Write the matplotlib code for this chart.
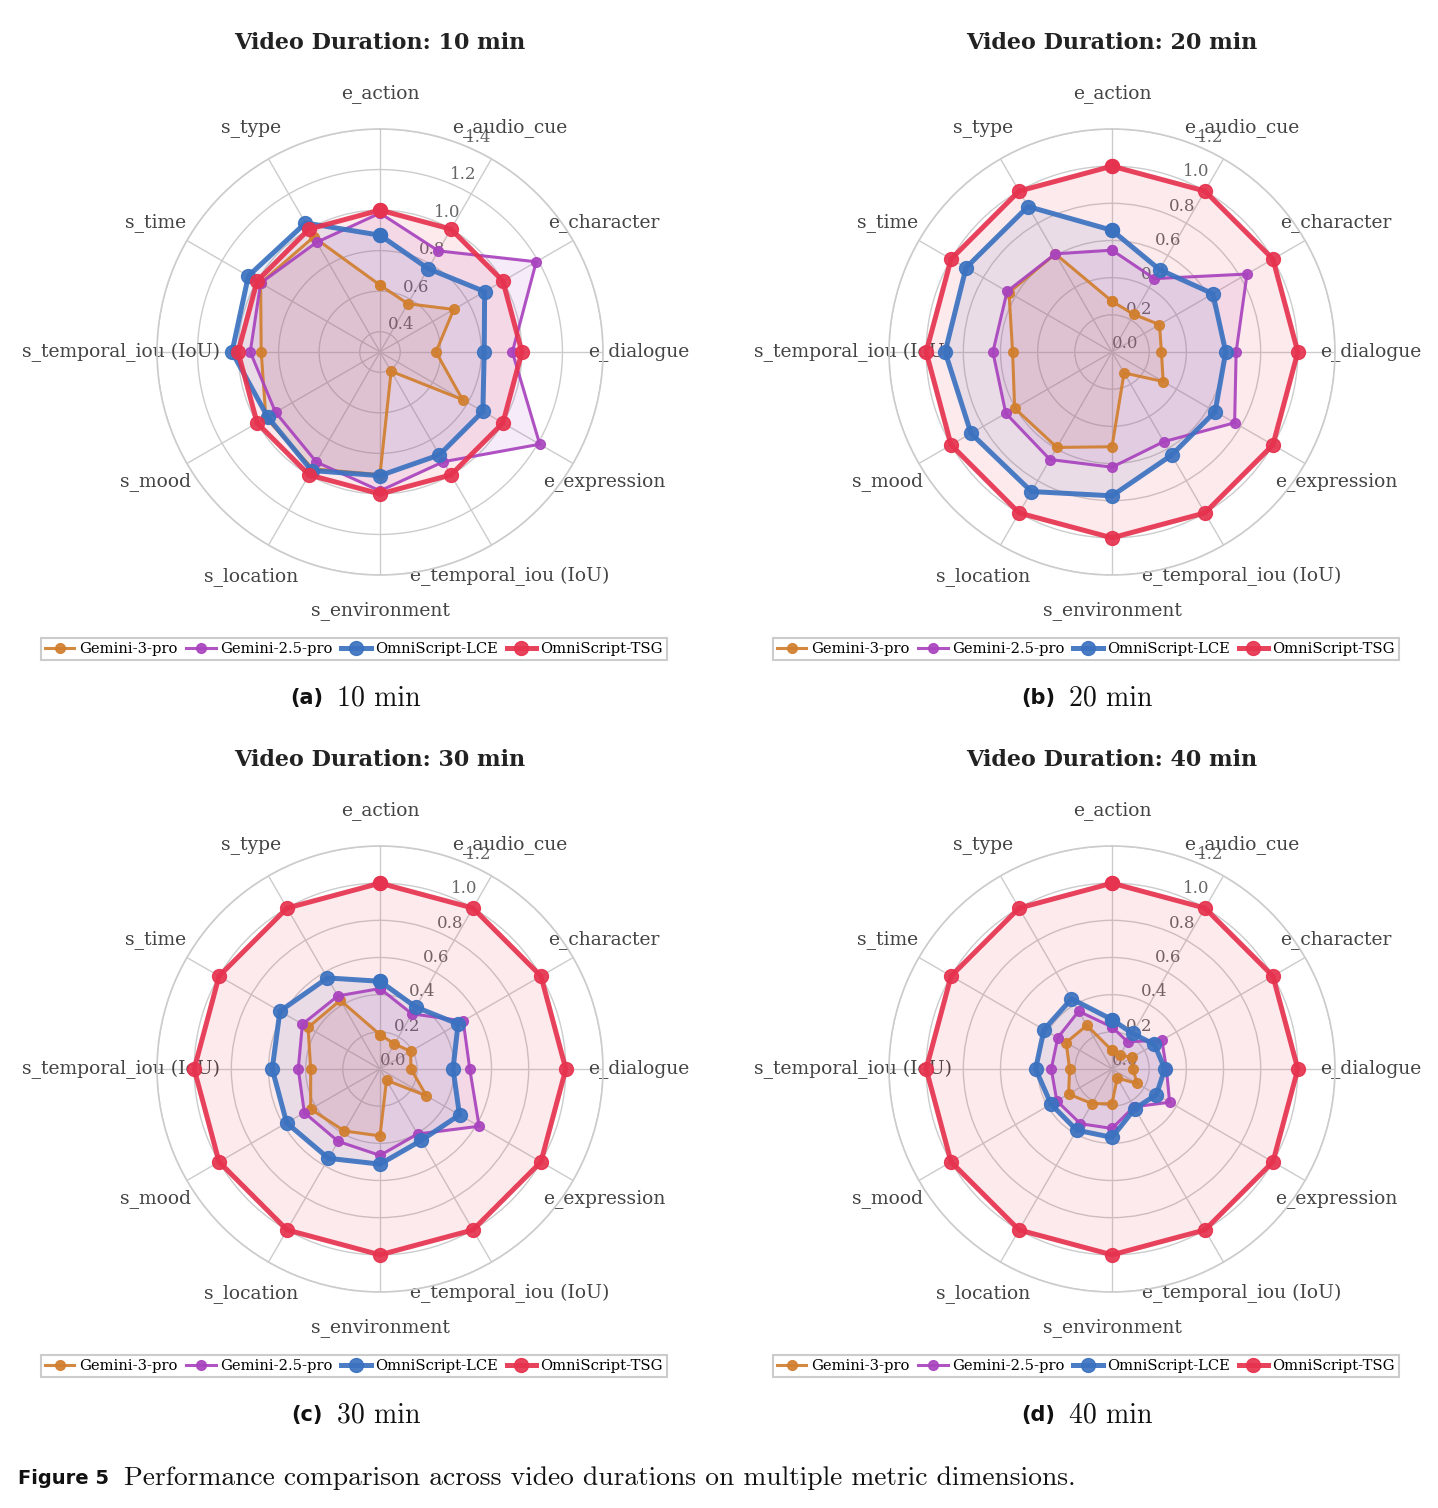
import numpy as np
import matplotlib.pyplot as plt

metrics = ["e_action", "e_audio_cue", "e_character", "e_dialogue", "e_expression",
           "e_temporal_iou (IoU)", "s_environment", "s_location", "s_mood",
           "s_temporal_iou (IoU)", "s_time", "s_type"]
models = ["Gemini-3-pro", "Gemini-2.5-pro", "OmniScript-LCE", "OmniScript-TSG"]
durations = ["10 min", "20 min", "30 min", "40 min"]

# values read per metric (same order as metrics)
gemini3_10 = [0.63, 0.575, 0.72, 0.576, 0.77, 0.41, 0.905, 0.965, 0.95, 0.886, 0.98, 0.955]
gemini25_10 = [0.985, 0.876, 1.19, 0.953, 1.21, 0.925, 0.985, 0.927, 0.895, 0.94, 0.98, 0.925]
lce_10 = [0.876, 0.775, 0.896, 0.814, 0.886, 0.886, 0.91, 0.975, 0.94, 1.03, 1.05, 1.035]
tsg_10 = [1.0, 1.0, 1.0, 1.0, 1.0, 1.0, 1.0, 1.0, 1.0, 1.0, 1.0, 1.0]

gemini3_20 = [0.273, 0.234, 0.295, 0.266, 0.318, 0.13, 0.51, 0.593, 0.605, 0.535, 0.64, 0.61]
gemini25_20 = [0.548, 0.456, 0.839, 0.668, 0.762, 0.557, 0.62, 0.668, 0.66, 0.641, 0.652, 0.61]
lce_20 = [0.655, 0.512, 0.627, 0.612, 0.641, 0.641, 0.774, 0.867, 0.876, 0.898, 0.907, 0.904]
tsg_20 = [1.0, 1.0, 1.0, 1.0, 1.0, 1.0, 1.0, 1.0, 1.0, 1.0, 1.0, 1.0]

gemini3_30 = [0.185, 0.156, 0.19, 0.167, 0.288, 0.07, 0.36, 0.385, 0.431, 0.373, 0.447, 0.427]
gemini25_30 = [0.433, 0.343, 0.517, 0.483, 0.616, 0.404, 0.465, 0.45, 0.47, 0.44, 0.482, 0.454]
lce_30 = [0.472, 0.385, 0.485, 0.393, 0.494, 0.444, 0.512, 0.555, 0.58, 0.58, 0.622, 0.566]
tsg_30 = [1.0, 1.0, 1.0, 1.0, 1.0, 1.0, 1.0, 1.0, 1.0, 1.0, 1.0, 1.0]

gemini3_40 = [0.10, 0.086, 0.126, 0.113, 0.156, 0.056, 0.187, 0.215, 0.27, 0.228, 0.285, 0.271]
gemini25_40 = [0.226, 0.169, 0.31, 0.293, 0.358, 0.235, 0.32, 0.34, 0.343, 0.327, 0.337, 0.359]
lce_40 = [0.266, 0.221, 0.264, 0.284, 0.276, 0.246, 0.368, 0.38, 0.379, 0.411, 0.423, 0.436]
tsg_40 = [1.0, 1.0, 1.0, 1.0, 1.0, 1.0, 1.0, 1.0, 1.0, 1.0, 1.0, 1.0]

panels = [
    [gemini3_10, gemini25_10, lce_10, tsg_10],
    [gemini3_20, gemini25_20, lce_20, tsg_20],
    [gemini3_30, gemini25_30, lce_30, tsg_30],
    [gemini3_40, gemini25_40, lce_40, tsg_40],
]
rlims = [(0.3, 1.4), (0.0, 1.2), (0.0, 1.2), (0.0, 1.2)]

colors = ['#D17F2F', '#A944BE', '#3B72C0', '#E6334F']
widths = [2.2, 2.2, 3.6, 3.6]
msizes = [7, 7, 10, 10]

W, H = 1438, 1508
R = 223
centers = [(380, 352), (1112, 352), (380, 1069), (1112, 1069)]
letters = ['(a)', '(b)', '(c)', '(d)']

fig = plt.figure(figsize=(W / 100, H / 100), dpi=100)

angles = np.linspace(0, 2 * np.pi, len(metrics), endpoint=False)
angles_closed = np.concatenate([angles, angles[:1]])

for k, (cx, cy) in enumerate(centers):
    ax = fig.add_axes([(cx - R) / W, 1 - (cy + R) / H, 2 * R / W, 2 * R / H], projection='polar')
    ax.set_theta_offset(np.pi / 2)
    ax.set_theta_direction(-1)

    handles = []
    for vals, c, lw, ms in zip(panels[k], colors, widths, msizes):
        v = np.concatenate([vals, vals[:1]])
        h, = ax.plot(angles_closed, v, color=c, lw=lw, marker='o', markersize=ms,
                     alpha=0.92, zorder=4)
        ax.fill(angles_closed, v, color=c, alpha=0.1, zorder=3)
        handles.append(h)

    lo, hi = rlims[k]
    ax.set_ylim(lo, hi)
    ax.set_yticks(np.arange(round(lo + 0.1, 1) if lo > 0 else 0.0, hi + 0.01, 0.2))
    ax.set_rlabel_position(22.5)
    ax.tick_params(axis='y', labelsize=12, labelcolor='#666666')
    for t in ax.get_yticklabels():
        t.set_family('DejaVu Serif')
    ax.set_xticks(angles)
    ax.set_xticklabels([])
    ax.grid(color='#cccccc', lw=1)
    ax.spines['polar'].set_color('#cccccc')
    ax.spines['polar'].set_linewidth(1.2)

    for a, name in zip(angles, metrics):
        ax.text(0.5 + 0.58 * np.sin(a), 0.5 + 0.58 * np.cos(a), name, transform=ax.transAxes,
                ha='center', va='center', fontsize=13.5, family='DejaVu Serif',
                color='#444444', zorder=2)

    fig.text(cx / W, 1 - (cy - 309) / H, 'Video Duration: ' + durations[k], ha='center',
             va='center', fontsize=16, fontweight='bold', family='DejaVu Serif', color='#222222')

    leg = fig.legend(handles, models, loc='center', bbox_to_anchor=((cx - 26) / W, 1 - (cy + 297) / H),
                     ncol=4, fancybox=False, framealpha=1, edgecolor='#cccccc',
                     prop={'family': 'DejaVu Serif', 'size': 10.6}, handlelength=2.0,
                     handletextpad=0.3, columnspacing=0.6, borderpad=0.3)
    leg.get_frame().set_linewidth(1.5)

    fig.text((cx - 57) / W, 1 - (cy + 346) / H, letters[k], ha='right', va='center',
             fontsize=15, fontweight='bold', family='DejaVu Sans', color='#111111')
    fig.text((cx - 43) / W, 1 - (cy + 346) / H, durations[k], ha='left', va='center',
             fontsize=20, family='cmr10', color='#111111')

fig.text(18 / W, 1 - 1478 / H, 'Figure 5', ha='left', va='center', fontsize=14,
         fontweight='bold', family='DejaVu Sans', color='#111111')
fig.text(124 / W, 1 - 1478 / H,
         'Performance comparison across video durations on multiple metric dimensions.',
         ha='left', va='center', fontsize=19.8, family='cmr10', color='#111111')

fig.savefig('out.png', dpi=100)
